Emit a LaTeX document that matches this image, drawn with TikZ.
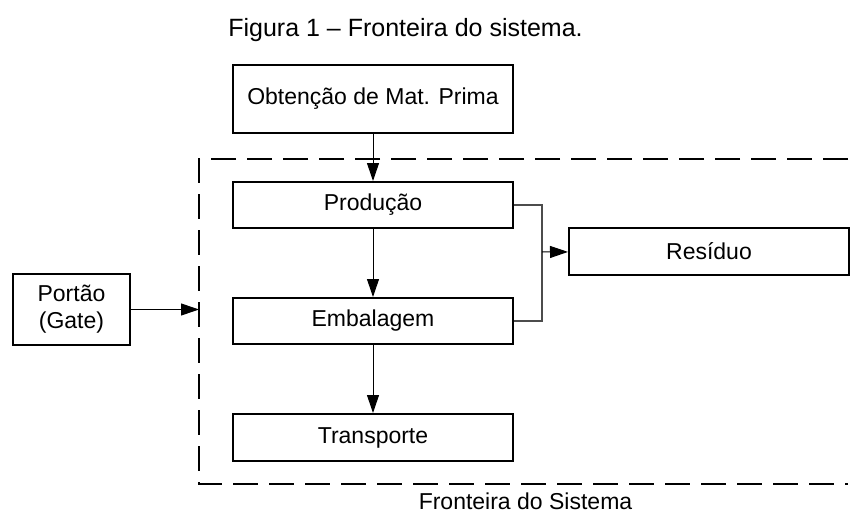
\documentclass[tikz,border=0pt]{standalone}
\usepackage{fontspec}
\setmainfont{Liberation Sans}
\usetikzlibrary{arrows.meta,positioning}

\begin{document}
\begin{tikzpicture}[x=0.5pt,y=-0.5pt,on grid,
    box/.style={draw,line width=1pt,minimum width=140pt,minimum height=23pt,inner sep=0pt,
      font=\fontsize{11.5}{13.5}\selectfont},
    flow/.style={-{Triangle[length=9pt,width=6pt]},line width=0.5pt},
    branch/.style={draw=black!70,line width=0.6pt},
    frontier/.style={line width=0.7pt,dash pattern=on 12.5pt off 5.5pt}]
        \useasboundingbox (0,0) rectangle (859,514);
        \node[font=\fontsize{12.5}{15}\selectfont,anchor=base] (title) at (405.5,37) {Figura 1 – Fronteira do sistema.};
        \node[box, minimum height=34pt] (obt) at (373,99) {Obtenção de Mat. Prima};
        \node[box] (prod) [below=53pt of obt] {Produção};
        \node[box] (emb) [below=58pt of prod] {Embalagem};
        \node[box, minimum height=23.5pt] (transp) [below=58.25pt of emb] {Transporte};
        \node[box, minimum height=23.5pt] (res) [below right=23.25pt and 168pt of prod] {Resíduo};
        \node[box, minimum width=58.5pt, minimum height=35.5pt, align=center] (gate) [above left=5.75pt and 150.75pt of emb] {Portão\\(Gate)};
        % fronteira do sistema
        \coordinate (fr-tr) at (848,159);
        \coordinate (fr-bl) at (199,484);
        \coordinate (fr-br) at (848,484);
        \draw[frontier] (fr-tr) -| (fr-bl) -- (fr-br);
        \node[font=\fontsize{11.5}{13.5}\selectfont,anchor=base] (frlabel) at (525.5,509) {Fronteira do Sistema};
        \coordinate (split) at (542,252);
        \coordinate (gate-in) at (fr-bl |- gate);
        \draw[flow] (obt) -- (prod);
        \draw[flow] (prod) -- (emb);
        \draw[flow] (emb) -- (transp);
        \draw[branch] (prod.east) -| (split) |- (emb.east);
        \draw[flow] (split) -- (res);
        \draw[flow] (gate) -- (gate-in);
      \end{tikzpicture}
\end{document}
